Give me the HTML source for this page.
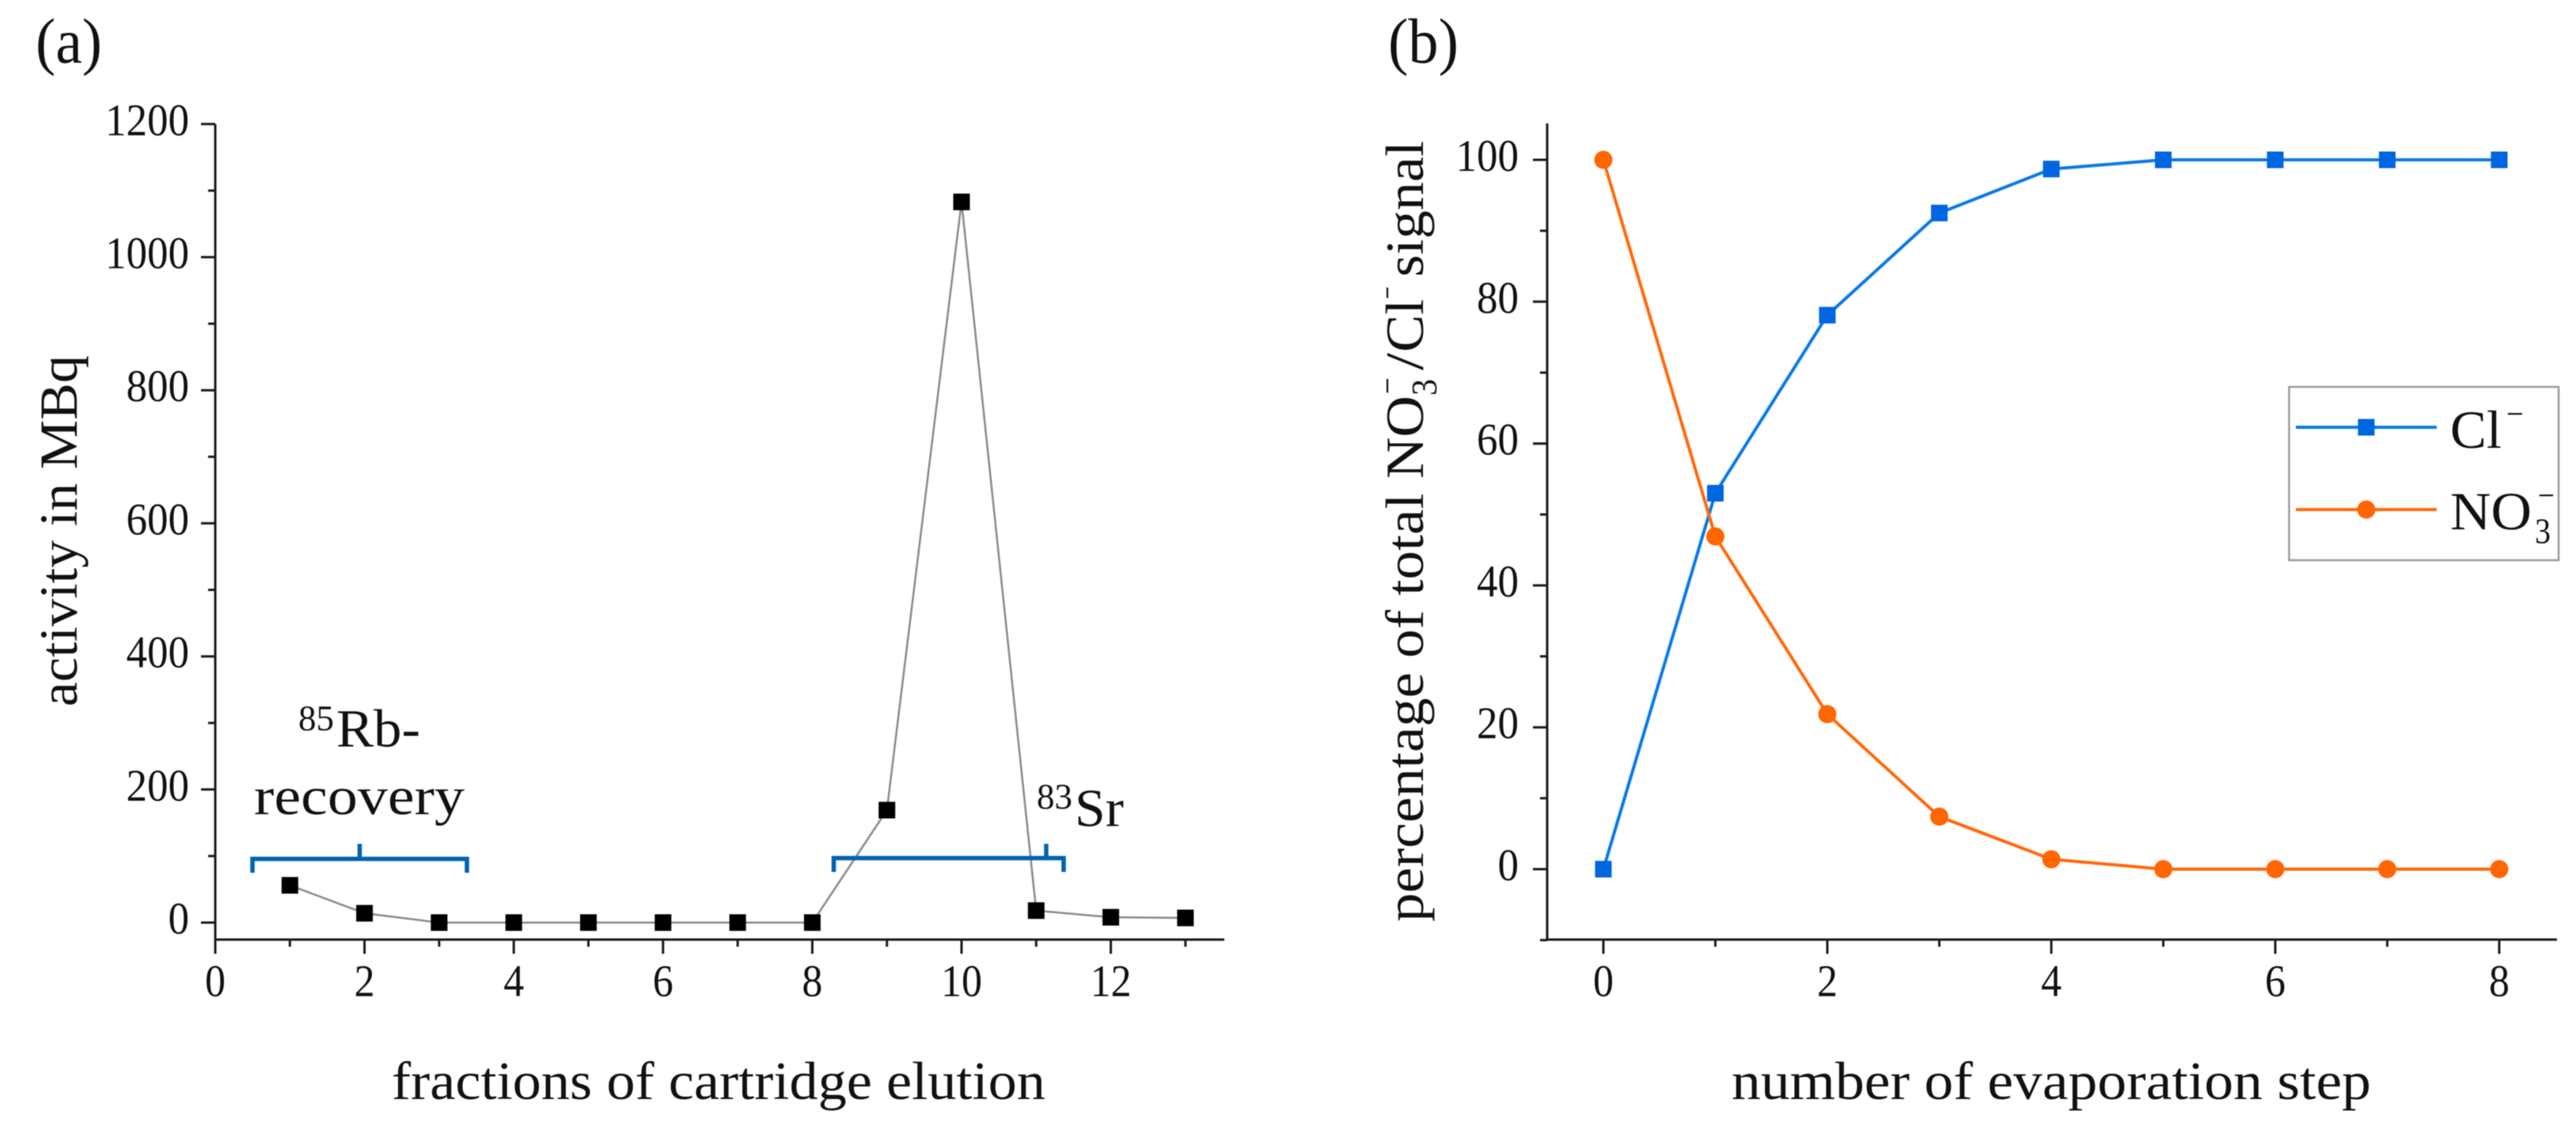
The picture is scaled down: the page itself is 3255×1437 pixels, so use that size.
<!DOCTYPE html>
<html lang="en">
<head>
<meta charset="utf-8">
<title>Activity per elution fraction and evaporation step signal</title>
<style>
  html, body { margin: 0; padding: 0; background: #fff; }
  svg { display: block; filter: blur(0.6px); }
  text { font-family: "Liberation Serif", "DejaVu Serif", serif; fill: #111; }
</style>
</head>
<body>
<svg id="figure" xmlns="http://www.w3.org/2000/svg" width="3255" height="1437" viewBox="0 0 3255 1437">
  <rect x="0" y="0" width="3255" height="1437" fill="#ffffff"/>

  <g id="panel-a">
    <text x="45" y="79" font-size="80" textLength="84" lengthAdjust="spacingAndGlyphs">(a)</text>
    <text transform="translate(97 893) rotate(-90)" font-size="68" textLength="444" lengthAdjust="spacingAndGlyphs">activity in MBq</text>
    <text x="495" y="1389" font-size="68" textLength="826" lengthAdjust="spacingAndGlyphs">fractions of cartridge elution</text>
    <g id="a-axes"></g>
    <g id="a-series"></g>

    <g fill="none" stroke="#0062b1" stroke-width="5.5">
      <path d="M319 1103 V1085.5 H590 V1103"/>
      <path d="M454.5 1085.5 V1066.5"/>
    </g>
    <g fill="none" stroke="#0062b1" stroke-width="5.5">
      <path d="M1053.5 1102 V1084.5 H1344 V1102"/>
      <path d="M1322 1084.5 V1066.5"/>
    </g>

    <g>
      <text x="377" y="923" font-size="45" textLength="45" lengthAdjust="spacingAndGlyphs">85</text>
      <text x="425" y="943.5" font-size="68" textLength="106" lengthAdjust="spacingAndGlyphs">Rb-</text>
      <text x="321" y="1029" font-size="68" textLength="266" lengthAdjust="spacingAndGlyphs">recovery</text>
    </g>
    <g>
      <text x="1310" y="1022" font-size="45" textLength="45" lengthAdjust="spacingAndGlyphs">83</text>
      <text x="1358" y="1044" font-size="68" textLength="62" lengthAdjust="spacingAndGlyphs">Sr</text>
    </g>
  </g>

  <g id="panel-b">
    <text x="1754" y="79" font-size="80" textLength="89" lengthAdjust="spacingAndGlyphs">(b)</text>
    <g>
      <text transform="translate(1798 1165) rotate(-90)" font-size="68" textLength="665" lengthAdjust="spacingAndGlyphs">percentage of total NO</text>
      <text transform="translate(1815 500) rotate(-90)" font-size="45" textLength="21" lengthAdjust="spacingAndGlyphs">3</text>
      <text transform="translate(1768 498) rotate(-90)" font-size="45" textLength="21" lengthAdjust="spacingAndGlyphs">−</text>
      <text transform="translate(1798 468) rotate(-90)" font-size="68" textLength="22" lengthAdjust="spacingAndGlyphs">/</text>
      <text transform="translate(1798 445) rotate(-90)" font-size="68" textLength="67" lengthAdjust="spacingAndGlyphs">Cl</text>
      <text transform="translate(1768 378) rotate(-90)" font-size="45" textLength="16" lengthAdjust="spacingAndGlyphs">−</text>
      <text transform="translate(1798 350) rotate(-90)" font-size="68" textLength="172" lengthAdjust="spacingAndGlyphs">signal</text>
    </g>
    <text x="2188" y="1389" font-size="68" textLength="808" lengthAdjust="spacingAndGlyphs">number of evaporation step</text>
    <g id="b-axes"></g>
    <g id="b-series"></g>

    <g>
      <rect x="2892.5" y="489" width="340.5" height="219" fill="#ffffff" stroke="#9a9a9a" stroke-width="2.5"/>
      <g>
        <line x1="2901" y1="540" x2="3079" y2="540" stroke="#0a7ae6" stroke-width="4"/>
        <rect x="2979.5" y="529.5" width="21" height="21" fill="#0066e0"/>
        <text x="3096" y="566" font-size="68" textLength="65" lengthAdjust="spacingAndGlyphs">Cl</text>
        <text x="3167" y="538" font-size="45" textLength="22" lengthAdjust="spacingAndGlyphs">−</text>
      </g>
      <g>
        <line x1="2901" y1="644" x2="3079" y2="644" stroke="#ff6a0d" stroke-width="4"/>
        <circle cx="2990" cy="644" r="11.5" fill="#ff6600"/>
        <text x="3096" y="669" font-size="68" textLength="103" lengthAdjust="spacingAndGlyphs">NO</text>
        <text x="3203" y="686.5" font-size="45" textLength="20" lengthAdjust="spacingAndGlyphs">3</text>
        <text x="3207" y="641" font-size="45" textLength="21" lengthAdjust="spacingAndGlyphs">−</text>
      </g>
    </g>
  </g>
</svg>

<script>
/* Panel (a) data */
const fractionNumbers = [1, 2, 3, 4, 5, 6, 7, 8, 9, 10, 11, 12, 13];
const activityMBq = [56, 14, 0, 0, 0, 0, 0, 0, 169, 1083, 18, 8, 7];
const aXMajorTicks = [0, 2, 4, 6, 8, 10, 12];
const aXMinorTicks = [1, 3, 5, 7, 9, 11, 13];
const aYMajorTicks = [0, 200, 400, 600, 800, 1000, 1200];
const aYMinorTicks = [100, 300, 500, 700, 900, 1100];

/* Panel (b) data */
const evaporationSteps = [0, 1, 2, 3, 4, 5, 6, 7, 8];
const chlorideSignal = [0, 53, 78.1, 92.5, 98.7, 100, 100, 100, 100];
const nitrateSignal = [100, 46.9, 21.85, 7.4, 1.4, 0, 0, 0, 0];
const bXMajorTicks = [0, 2, 4, 6, 8];
const bXMinorTicks = [1, 3, 5, 7];
const bYMajorTicks = [0, 20, 40, 60, 80, 100];
const bYMinorTicks = [-10, 10, 30, 50, 70, 90];

/* Axis functions */
const aX = v => 272 + v * 94.3;
const aY = v => 1166 - v * 0.841;
const bX = v => 2026 + v * 141.5;
const bY = v => 1098.5 - v * 8.965;

const SVG_NS = 'http://www.w3.org/2000/svg';
const AXIS_BOTTOM = 1187.5;
const MAJOR_LEN = 18;
const MINOR_LEN = 9;
const INK = '#1a1a1a';

function mk(tag, attrs, parent) {
  const node = document.createElementNS(SVG_NS, tag);
  Object.keys(attrs).forEach(k => node.setAttribute(k, attrs[k]));
  parent.appendChild(node);
  return node;
}

function drawAxes(parent, axisLeft, axisTop, axisRight, xScale, yScale, xMajor, xMinor, yMajor, yMinor, xLabelRight) {
  const yLine = mk('line', { x1: axisLeft, y1: axisTop, x2: axisLeft, y2: AXIS_BOTTOM + 1.5, stroke: INK, 'stroke-width': 3 }, parent);
  
  

  const xLine = mk('line', { x1: axisLeft, y1: AXIS_BOTTOM, x2: axisRight, y2: AXIS_BOTTOM, stroke: INK, 'stroke-width': 3 }, parent);
  
  

  xMajor.forEach(v => {
    const tick = mk('line', { x1: xScale(v), y1: AXIS_BOTTOM, x2: xScale(v), y2: AXIS_BOTTOM + MAJOR_LEN, stroke: INK, 'stroke-width': 3 }, parent);
    
    

    const str = String(v);
    const label = mk('text', { x: xScale(v), y: 1259, 'font-size': 57, 'text-anchor': 'middle', textLength: str.length * 26, lengthAdjust: 'spacingAndGlyphs' }, parent);
    label.textContent = str;
    
    
  });

  xMinor.forEach(v => {
    const tick = mk('line', { x1: xScale(v), y1: AXIS_BOTTOM, x2: xScale(v), y2: AXIS_BOTTOM + MINOR_LEN, stroke: INK, 'stroke-width': 3 }, parent);
    
    
  });

  yMajor.forEach(v => {
    const tick = mk('line', { x1: axisLeft - MAJOR_LEN, y1: yScale(v), x2: axisLeft, y2: yScale(v), stroke: INK, 'stroke-width': 3 }, parent);
    
    

    const str = String(v);
    const label = mk('text', { x: xLabelRight, y: yScale(v) + 14, 'font-size': 57, 'text-anchor': 'end', textLength: str.length * 26.5, lengthAdjust: 'spacingAndGlyphs' }, parent);
    label.textContent = str;
    
    
  });

  yMinor.forEach(v => {
    const tick = mk('line', { x1: axisLeft - MINOR_LEN, y1: yScale(v), x2: axisLeft, y2: yScale(v), stroke: INK, 'stroke-width': 3 }, parent);
    
    
  });
}

const aAxes = document.getElementById('a-axes');
const aSeries = document.getElementById('a-series');
const bAxes = document.getElementById('b-axes');
const bSeries = document.getElementById('b-series');

drawAxes(aAxes, 272, 157, 1547, aX, aY, aXMajorTicks, aXMinorTicks, aYMajorTicks, aYMinorTicks, 239);
drawAxes(bAxes, 1955, 156, 3231, bX, bY, bXMajorTicks, bXMinorTicks, bYMajorTicks, bYMinorTicks, 1919);

/* Panel (a) series */
const activityLine = mk('polyline', {
  points: fractionNumbers.map((x, i) => aX(x) + ',' + aY(activityMBq[i])).join(' '),
  fill: 'none', stroke: '#8a8a8a', 'stroke-width': 2.5
}, aSeries);



fractionNumbers.forEach((x, i) => {
  const pt = mk('rect', { x: aX(x) - 10.5, y: aY(activityMBq[i]) - 10.5, width: 21, height: 21, fill: '#000000' }, aSeries);
  
  
});

/* Panel (b) series */
const chlorideLine = mk('polyline', {
  points: evaporationSteps.map((x, i) => bX(x) + ',' + bY(chlorideSignal[i])).join(' '),
  fill: 'none', stroke: '#0a7ae6', 'stroke-width': 4
}, bSeries);



evaporationSteps.forEach((x, i) => {
  const pt = mk('rect', { x: bX(x) - 10.5, y: bY(chlorideSignal[i]) - 10.5, width: 21, height: 21, fill: '#0066e0' }, bSeries);
  
  
});

const nitrateLine = mk('polyline', {
  points: evaporationSteps.map((x, i) => bX(x) + ',' + bY(nitrateSignal[i])).join(' '),
  fill: 'none', stroke: '#ff6a0d', 'stroke-width': 4
}, bSeries);



evaporationSteps.forEach((x, i) => {
  const pt = mk('circle', { cx: bX(x), cy: bY(nitrateSignal[i]), r: 11.5, fill: '#ff6600' }, bSeries);
  
  
});
</script>
</body>
</html>
